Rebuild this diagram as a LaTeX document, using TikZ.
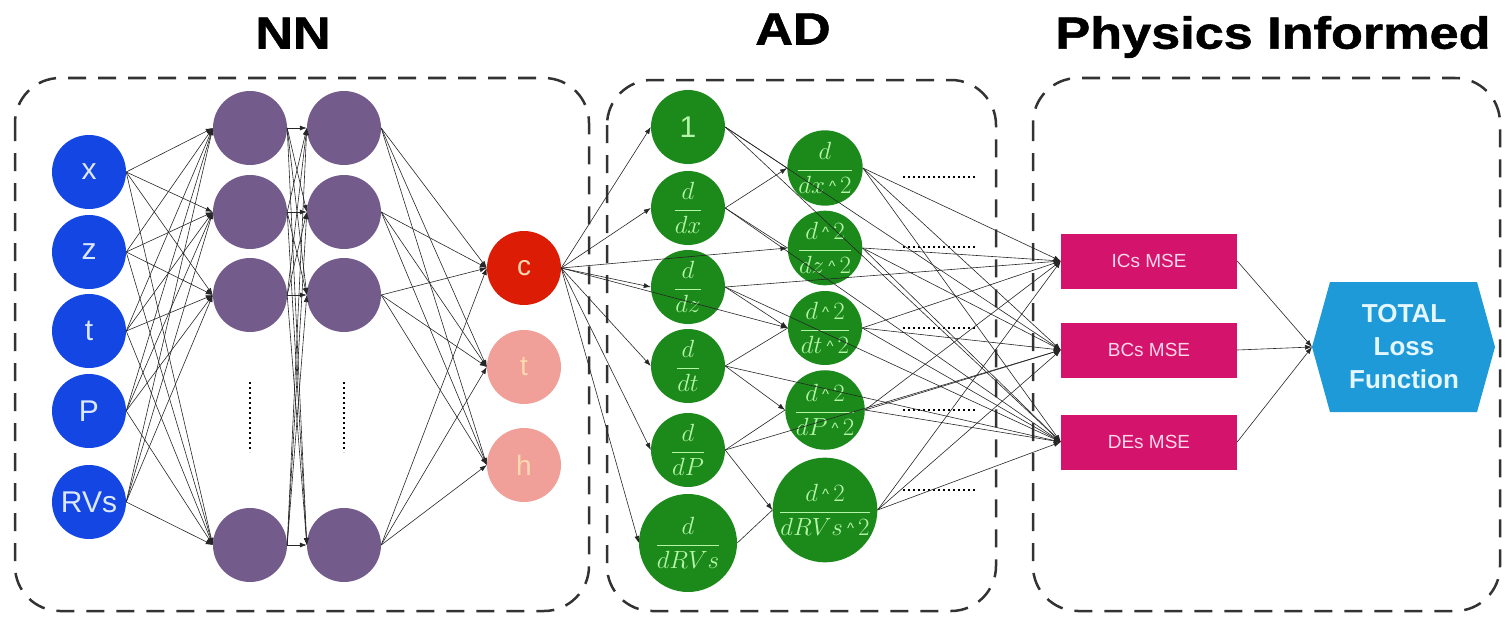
\documentclass[tikz,border=0pt]{standalone}
\usepackage{fontspec}
\usepackage{amsmath}
\setmainfont{Liberation Sans}
\newfontfamily\titlefont{Liberation Sans}[FakeStretch=1.16,FakeBold=1.2]
\usetikzlibrary{arrows.meta}
\definecolor{inblue}{HTML}{1446E4}
\definecolor{intext}{HTML}{DCE8FF}
\definecolor{hidpurple}{HTML}{735C8C}
\definecolor{outred}{HTML}{DD1C06}
\definecolor{outpink}{HTML}{F0A098}
\definecolor{pinktext}{HTML}{FFD8B0}
\definecolor{adgreen}{HTML}{1B8A1B}
\definecolor{adtext}{HTML}{B4F5A8}
\definecolor{msemag}{HTML}{D4136C}
\definecolor{msetext}{HTML}{FFD6EA}
\definecolor{totblue}{HTML}{1F9AD8}
\definecolor{tottext}{HTML}{E4F6FF}
\tikzset{
  neuron/.style={circle, minimum size=74pt, inner sep=0pt},
  inp/.style={neuron, fill=inblue, text=intext, font=\fontsize{30}{30}\selectfont},
  hid/.style={neuron, fill=hidpurple},
  outc/.style={neuron, fill=outred, text=pinktext, font=\fontsize{28}{28}\selectfont},
  outp/.style={neuron, fill=outpink, text=pinktext, font=\fontsize{28}{28}\selectfont},
  adnode/.style={neuron, fill=adgreen, text=adtext, font=\fontsize{25}{25}\selectfont},
  adbig/.style={adnode, minimum size=98pt},
  adbigger/.style={adnode, minimum size=102pt},
  msebox/.style={rectangle, fill=msemag, text=msetext, minimum width=176pt, minimum height=55pt, inner sep=0pt, font=\fontsize{19}{19}\selectfont},
  conn/.style={draw=black!85, line width=0.6pt, -{Latex[length=7pt,width=5pt]}},
  plainline/.style={draw=black!85, line width=0.6pt},
  groupbox/.style={draw=black!80, line width=2.5pt, dash pattern=on 18pt off 12pt, rounded corners=45pt},
  title/.style={font=\titlefont\bfseries\fontsize{45}{45}\selectfont, text=black},
  dotline/.style={draw=black, line width=2.2pt, dash pattern=on 2pt off 3pt},
}
\newcommand{\crt}{\,\raisebox{2pt}{\fontsize{15}{15}\selectfont\textasciicircum}\,}
\newcommand{\fr}[2]{$\displaystyle\frac{#1}{#2}$}
\begin{document}
\begin{tikzpicture}[x=1pt,y=-1pt]
\useasboundingbox (0,0) rectangle (1507,618);
% titles
\node[title] (tnn) at (293,33) {NN};
\node[title] (tad) at (793,29) {AD};
\node[title] (tpi) at (1273,37) {Physics Informed};
% group boxes
\draw[groupbox] (15,78) rectangle (589,611);
\draw[groupbox] (607,80) rectangle (996,611);
\draw[groupbox] (1033,78) rectangle (1500,611);
% inputs
\node[inp] (ix) at (89,172) {x};
\node[inp] (iz) at (89,252) {z};
\node[inp] (it) at (89,331) {t};
\node[inp] (iP) at (89,411) {P};
\node[inp] (iR) at (89,502) {RVs};
% hidden layers
\foreach \n/\y in {1/128,2/212,3/295,4/545}{
  \node[hid] (a\n) at (250,\y) {};
  \node[hid] (b\n) at (344,\y) {};
}
\draw[dotline] (250,382) -- (250,452);
\draw[dotline] (344,382) -- (344,452);
% outputs
\node[outc] (oc) at (524,268) {c};
\node[outp] (ot) at (524,367) {t};
\node[outp] (oh) at (524,465) {h};
% AD column 1
\node[adnode, font=\fontsize{30}{30}\selectfont] (d1) at (688,127) {1};
\node[adnode] (dx) at (688,208) {\fr{d}{dx}};
\node[adnode] (dz) at (688,287) {\fr{d}{dz}};
\node[adnode] (dt) at (688,366) {\fr{d}{dt}};
\node[adnode] (dP) at (688,450) {\fr{d}{dP}};
\node[adbig] (dR) at (688,543) {\fr{d}{dRVs}};
% AD column 2
\node[adnode] (ex) at (825,168) {\fr{d}{dx\crt2}};
\node[adnode] (ez) at (825,248) {\fr{d\crt2}{dz\crt2}};
\node[adnode] (et) at (825,328) {\fr{d\crt2}{dt\crt2}};
\node[adnode] (eP) at (825,410) {\fr{d\crt2}{dP\crt2}};
\node[adbigger] (eR) at (825,510) {\fr{d\crt2}{dRVs\crt2}};
\foreach \y in {177,247,328,410,490}{
  \draw[dotline] (903,\y) -- (975,\y);
}
% physics informed
\node[msebox] (ics) at (1149,261) {ICs MSE};
\node[msebox] (bcs) at (1149,350) {BCs MSE};
\node[msebox] (des) at (1149,442) {DEs MSE};
\fill[totblue] (1312,347) -- (1330,282) -- (1477,282) -- (1495,347) -- (1477,412) -- (1330,412) -- cycle;
\coordinate (totw) at (1312,347);
\node[text=tottext, font=\bfseries\fontsize{26}{33}\selectfont, align=center] (total) at (1404,347) {TOTAL\\Loss\\Function};
% connectors: inputs -> hidden 1
\foreach \i in {ix,iz,it,iP,iR}{
  \foreach \h in {a1,a2,a3,a4}{
    \draw[conn] (\i.east) -- (\h.west);
  }
}
% hidden 1 -> hidden 2
\foreach \i in {a1,a2,a3,a4}{
  \foreach \h in {b1,b2,b3,b4}{
    \draw[conn] (\i.east) -- (\h.west);
  }
}
% hidden 2 -> outputs
\foreach \i in {b1,b2,b3,b4}{
  \foreach \o in {oc,ot,oh}{
    \draw[conn] (\i.east) -- (\o.west);
  }
}
% c -> AD
\foreach \d in {d1,dx,dz,dt,dP,dR,ez,et}{
  \draw[conn] (oc.east) -- (\d.west);
}
\draw[conn] (dx.east) -- (ex.west);
\draw[conn] (dz.east) -- (et.west);
\draw[conn] (dt.east) -- (eP.west);
\draw[conn] (dP.east) -- (eR.west);
\draw[plainline] (d1.east) -- (ex.west);
\draw[plainline] (dx.east) -- (ez.west);
\draw[plainline] (dt.east) -- (et.west);
\draw[plainline] (dP.east) -- (eP.west);
\draw[plainline] (dR.east) -- (eR.west);
% AD -> MSE
\foreach \e in {ex,ez,et,eP,eR}{
  \draw[conn] (\e.east) -- (ics.west);
  \draw[conn] (\e.east) -- (bcs.west);
  \draw[conn] (\e.east) -- (des.west);
}
\foreach \d in {d1,dx,dz,dt}{
  \draw[conn] (\d.east) -- (des.west);
}
\draw[conn] (d1.east) -- (bcs.west);
\draw[conn] (dz.east) -- (ics.west);
\draw[conn] (dP.east) -- (bcs.west);
% MSE -> total
\foreach \m in {ics,bcs,des}{
  \draw[conn] (\m.east) -- (totw);
}
\end{tikzpicture}
\end{document}
